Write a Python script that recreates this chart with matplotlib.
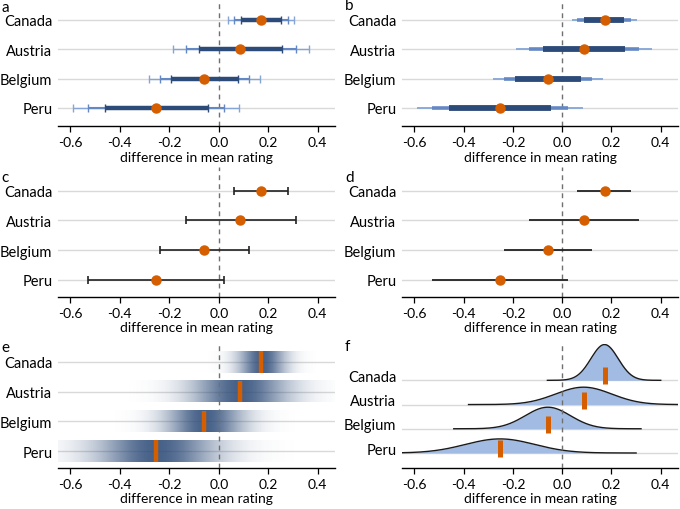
import numpy as np
import matplotlib
matplotlib.use("Agg")
import matplotlib.pyplot as plt

plt.rcParams['font.family'] = ['Lato', 'DejaVu Sans']

# data: rows from bottom (1) to top (4)
countries = ["Peru", "Belgium", "Austria", "Canada"]
mean = [-0.252, -0.058, 0.087, 0.172]
lo80 = [-0.459, -0.193, -0.079, 0.090]
hi80 = [-0.044, 0.078, 0.255, 0.252]
lo95 = [-0.528, -0.238, -0.134, 0.062]
hi95 = [0.023, 0.122, 0.313, 0.279]
lo99 = [-0.591, -0.281, -0.187, 0.039]
hi99 = [0.083, 0.165, 0.364, 0.305]
# standard error (from 95% interval) and drawn range of the density curves
se = [(h - l) / 3.92 for l, h in zip(lo95, hi95)]
dens_from = [-0.66, -0.44, -0.38, -0.06]
dens_to = [0.30, 0.32, 0.55, 0.40]

xticks = [-0.6, -0.4, -0.2, 0.0, 0.2, 0.4]
xtick_labels = ["-0.6", "-0.4", "-0.2", "0.0", "0.2", "0.4"]

orange = "#D55E00"
dark_blue = "#2D4B78"
mid_blue = "#6488C4"
light_blue = "#86A5D6"
fill_blue = "#A2BBE2"
grid_col = "#D9D9D9"
FS = 10
FS_Y = 10.5

W, H = 680, 510
fig = plt.figure(figsize=(6.8, 5.1), dpi=100)
rows = np.arange(1, 5)


def px_axes(left, top, right, bottom):
    return fig.add_axes([left / W, 1 - bottom / H, (right - left) / W, (bottom - top) / H])


def style(ax, ylim, tick_shift=0.0, dash_top=False):
    ax.set_xlim(-0.65, 0.47)
    ax.set_ylim(*ylim)
    for s in ["left", "right", "top"]:
        ax.spines[s].set_visible(False)
    ax.spines["bottom"].set_linewidth(1.0)
    ax.set_xticks(xticks)
    ax.set_xticklabels(xtick_labels)
    ax.set_yticks(rows + tick_shift)
    ax.set_yticklabels(countries)
    ax.tick_params(axis="y", length=0, pad=4, labelsize=FS_Y)
    ax.tick_params(axis="x", length=4, width=0.9, pad=3, labelsize=FS)
    ax.set_xlabel("difference in mean rating", fontsize=FS, labelpad=2)
    for r in rows:
        ax.axhline(r, color=grid_col, lw=1.0, zorder=0)
    ax.axvline(0, color="#707070", lw=1.0, dashes=(3.5, 3), zorder=6 if dash_top else 1)


def letter(x, y, s):
    fig.text(x / W, 1 - y / H, s, fontsize=11, va="center", ha="left")


# a: multiple error bars with caps
ax = px_axes(58, 3, 335, 127)
style(ax, (0.386, 4.61))
ax.errorbar(mean, rows, xerr=[np.subtract(mean, lo99), np.subtract(hi99, mean)],
            fmt="none", ecolor=light_blue, elinewidth=1.0, capsize=3, capthick=1.0, zorder=2)
ax.errorbar(mean, rows, xerr=[np.subtract(mean, lo95), np.subtract(hi95, mean)],
            fmt="none", ecolor=mid_blue, elinewidth=1.5, capsize=3, capthick=1.0, zorder=3)
ax.errorbar(mean, rows, xerr=[np.subtract(mean, lo80), np.subtract(hi80, mean)],
            fmt="none", ecolor=dark_blue, elinewidth=3.2, capsize=3, capthick=1.0, zorder=4)
ax.plot(mean, rows, "o", color=orange, ms=6.5, zorder=5)
letter(1, 8, "a")

# b: graded error bars without caps
ax = px_axes(402, 3, 678, 127)
style(ax, (0.386, 4.61))
ax.hlines(rows, lo99, hi99, color=light_blue, lw=1.3, zorder=2)
ax.hlines(rows, lo95, hi95, color=mid_blue, lw=2.6, zorder=3)
ax.hlines(rows, lo80, hi80, color=dark_blue, lw=4.2, zorder=4)
ax.plot(mean, rows, "o", color=orange, ms=6.5, zorder=5)
letter(345, 6, "b")

# c: 95% error bars with caps
ax = px_axes(58, 168, 335, 298)
style(ax, (0.42, 4.8))
ax.errorbar(mean, rows, xerr=[np.subtract(mean, lo95), np.subtract(hi95, mean)],
            fmt="none", ecolor="#222222", elinewidth=1.2, capsize=3, capthick=1.2, zorder=3)
ax.plot(mean, rows, "o", color=orange, ms=6.5, zorder=5)
letter(1, 178, "c")

# d: 95% error bars without caps
ax = px_axes(402, 168, 678, 298)
style(ax, (0.42, 4.8))
ax.hlines(rows, lo95, hi95, color="#222222", lw=1.3, zorder=3)
ax.plot(mean, rows, "o", color=orange, ms=6.5, zorder=5)
letter(345, 178, "d")

# e: graded density bands
ax = px_axes(58, 345, 335, 469)
style(ax, (0.43, 4.6), dash_top=True)
rgb = matplotlib.colors.to_rgb(dark_blue)
for r, m, s in zip(rows, mean, se):
    xs = np.linspace(m - 4 * s, m + 4 * s, 300)
    a = np.exp(-0.5 * ((xs - m) / (1.2 * s)) ** 2) * 0.88
    img = np.zeros((1, len(xs), 4))
    img[0, :, :3] = rgb
    img[0, :, 3] = a
    ax.imshow(img, extent=[xs[0], xs[-1], r - 0.36, r + 0.36], aspect="auto",
              interpolation="bilinear", zorder=2)
ax.vlines(mean, rows - 0.36, rows + 0.36, color=orange, lw=3.2, zorder=5)
ax.set_xlim(-0.65, 0.47)
ax.set_ylim(0.43, 4.6)
letter(1, 348, "e")

# f: ridgeline densities
ax = px_axes(402, 345, 678, 469)
style(ax, (0.38, 5.5), tick_shift=0.2, dash_top=True)
for r, m, s, x0, x1 in zip(rows, mean, se, dens_from, dens_to):
    xs = np.linspace(x0, x1, 300)
    ys = r + 0.205 * np.exp(-0.5 * ((xs - m) / s) ** 2) / (s * np.sqrt(2 * np.pi))
    ax.fill_between(xs, r, ys, color=fill_blue, lw=0, zorder=2)
    ax.plot(xs, ys, color="#1a1a1a", lw=1.0, zorder=3)
ax.vlines(mean, rows - 0.17, rows + 0.53, color=orange, lw=3.6, zorder=5)
ax.set_xlim(-0.65, 0.47)
letter(345, 347, "f")

fig.savefig("out.png", dpi=100)
